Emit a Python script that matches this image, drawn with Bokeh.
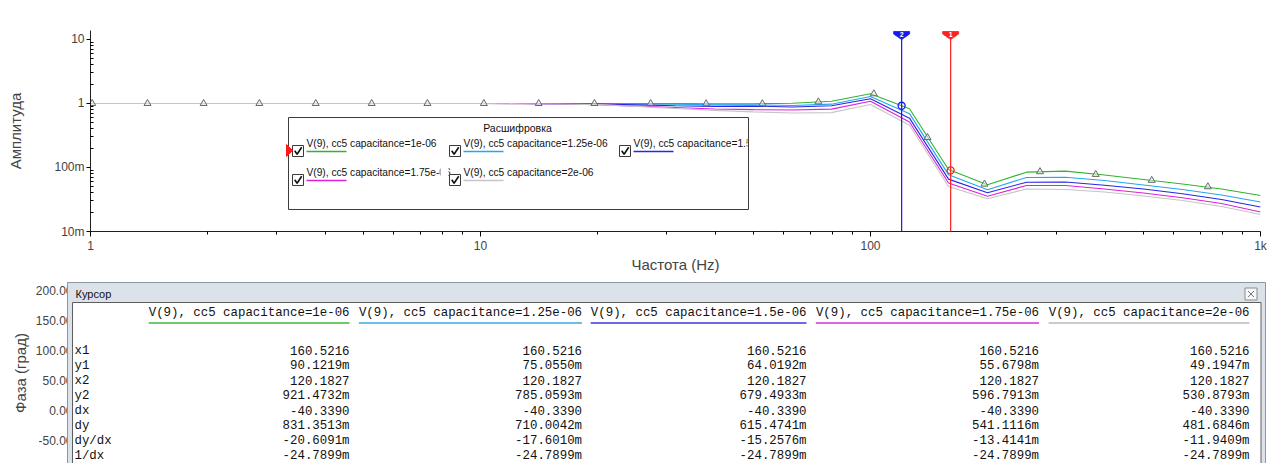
import numpy as np
from bokeh.plotting import figure
from bokeh.layouts import column
from bokeh.models import (Range1d, LinearScale, FixedTicker, CustomJSTickFormatter,
                          NumeralTickFormatter)
from bokeh.core.properties import value
from bokeh.embed import file_html
from bokeh.resources import INLINE

# ---------------------------------------------------------------- data
# AC sweep frequency points, 10 per decade (Hz)
freq = [1, 1.259, 1.585, 1.995, 2.512, 3.162, 3.981, 5.012, 6.310, 7.943,
        10, 12.59, 15.85, 19.95, 25.12, 31.62, 39.81, 50.12, 63.10, 79.43,
        100, 125.9, 158.5, 199.5, 251.2, 316.2, 398.1, 501.2, 631.0, 794.3, 1000]

# |V(9)| for each cc5 capacitance step
amp_c1 = [1.0, 1.0, 1.0, 1.0, 1.0, 1.0, 1.0, 1.0, 1.0, 1.0,
          1.0, 1.0, 1.0, 1.0, 1.0, 0.995, 0.985, 0.99, 1.01, 1.085,
          1.418, 0.826, 0.0929, 0.0537, 0.0845, 0.0876, 0.0763, 0.0649, 0.0553, 0.0461, 0.0365]
amp_c2 = [1.0, 1.0, 1.0, 1.0, 1.0, 1.0, 1.0, 1.0, 1.0, 1.0,
          1.0, 1.0, 0.99, 0.99, 0.985, 0.975, 0.955, 0.95, 0.93, 0.975,
          1.284, 0.693, 0.0773, 0.0449, 0.0698, 0.0705, 0.0626, 0.0533, 0.0453, 0.0372, 0.0289]
amp_c3 = [1.0, 1.0, 1.0, 1.0, 1.0, 1.0, 1.0, 1.0, 1.0, 1.0,
          1.0, 1.0, 0.99, 0.98, 0.95, 0.92, 0.90, 0.91, 0.88, 0.92,
          1.184, 0.590, 0.0658, 0.0403, 0.0589, 0.0593, 0.0529, 0.0461, 0.0388, 0.0316, 0.0241]
amp_c4 = [1.0, 1.0, 1.0, 1.0, 1.0, 1.0, 1.0, 1.0, 1.0, 1.0,
          1.0, 0.99, 0.98, 0.96, 0.91, 0.866, 0.82, 0.80, 0.79, 0.815,
          1.086, 0.513, 0.0572, 0.0356, 0.0523, 0.0523, 0.0461, 0.0400, 0.0336, 0.0274, 0.0202]
amp_c5 = [1.0, 1.0, 1.0, 1.0, 1.0, 1.0, 1.0, 1.0, 1.0, 1.0,
          1.0, 0.99, 0.98, 0.96, 0.90, 0.835, 0.78, 0.74, 0.71, 0.72,
          0.965, 0.4565, 0.0504, 0.0324, 0.0461, 0.0453, 0.0414, 0.0359, 0.0305, 0.0246, 0.0184]

series_names = ["V(9), cc5 capacitance=1e-06",
                "V(9), cc5 capacitance=1.25e-06",
                "V(9), cc5 capacitance=1.5e-06",
                "V(9), cc5 capacitance=1.75e-06",
                "V(9), cc5 capacitance=2e-06"]
series_amps = [amp_c1, amp_c2, amp_c3, amp_c4, amp_c5]
series_colors = ["#2fb52f", "#22a8ee", "#2626e8", "#dc22dc", "#c6c6c6"]
underline_colors = ["#3cb83c", "#3aa8e0", "#3a3ad6", "#d630d6", "#b8b8b8"]

# symbols plotted along the first trace
marker_f = [1.01, 1.40, 1.95, 2.71, 3.78, 5.26, 7.31, 10.2, 14.1, 19.6, 27.3,
            37.9, 52.8, 73.5, 102, 140, 196, 272, 378, 526, 733]
marker_v = [1.0, 1.0, 1.0, 1.0, 1.0, 1.0, 1.0, 1.0, 1.0, 1.0, 1.0,
            0.99, 0.99, 1.06, 1.42, 0.294, 0.055, 0.086, 0.078, 0.063, 0.050]

# cursor readout
cursor_x1 = 160.5216
cursor_x2 = 120.1827
y1_vals = [0.0901219, 0.0750550, 0.0640192, 0.0556798, 0.0491947]
y2_vals = [0.9214732, 0.7850593, 0.6794933, 0.5967913, 0.5308793]
dx_val = -40.3390
dy_vals = [0.8313513, 0.7100042, 0.6154741, 0.5411116, 0.4816846]
dydx_vals = [-0.0206091, -0.0176010, -0.0152576, -0.0134141, -0.0119409]
inv_dx_val = -0.0247899
row_labels = ["x1", "y1", "x2", "y2", "dx", "dy", "dy/dx", "1/dx"]

phase_ticks = [-50, 0, 50, 100, 150, 200]

UI = "Liberation Sans"
MONO = "Liberation Mono"


def eng(v):
    """Engineering-style readout: values below 1 get an 'm' suffix."""
    if abs(v) < 1:
        return f"{v * 1000:.4f}m"
    return f"{v:.4f}"


# ---------------------------------------------------------------- amplitude plot
F_LEFT, F_RIGHT, F_TOP, F_BOTTOM = 90, 1260, 30, 231
F_MIN, F_MAX = 1, 1000

top = figure(width=1269, height=280, x_axis_type="log", y_axis_type="log",
             x_range=Range1d(F_MIN, F_MAX), y_range=Range1d(0.01, 13.8),
             output_backend="svg", toolbar_location=None, frame_align=False,
             min_border_left=F_LEFT, min_border_right=1269 - F_RIGHT,
             min_border_top=F_TOP, min_border_bottom=280 - F_BOTTOM,
             background_fill_color="white", border_fill_color="white")
top.outline_line_color = None
top.grid.visible = False
# pixel-like overlay coordinates for the cursor flags and the legend panel
top.extra_x_ranges = {"px": Range1d(F_LEFT, F_RIGHT)}
top.extra_y_ranges = {"py": Range1d(F_BOTTOM, F_TOP)}
top.extra_x_scales = {"px": LinearScale()}
top.extra_y_scales = {"py": LinearScale()}


def freq_to_px(f):
    return F_LEFT + (F_RIGHT - F_LEFT) * np.log10(f / F_MIN) / np.log10(F_MAX / F_MIN)


xa = top.xaxis[0]
xa.ticker = FixedTicker(ticks=[1, 10, 100, 1000],
                        minor_ticks=[m * 10 ** e for e in range(3) for m in range(2, 10)])
xa.formatter = CustomJSTickFormatter(code="return tick >= 1000 ? (tick/1000).toFixed(0) + 'k' : tick.toFixed(0);")
xa.axis_label = "Частота (Hz)"
xa.axis_label_text_font = UI
xa.axis_label_text_font_size = "15px"
xa.axis_label_text_font_style = "normal"
xa.axis_label_standoff = 0
xa.major_label_text_font = UI
xa.major_label_text_font_size = "12px"
xa.major_label_standoff = 2
xa.major_tick_out = 5
xa.major_tick_in = 0
xa.minor_tick_out = 3
xa.minor_tick_in = 0
xa.axis_line_color = "#202020"

ya = top.yaxis[0]
ya.ticker = FixedTicker(ticks=[0.01, 0.1, 1, 10],
                        minor_ticks=[m * 10.0 ** e for e in (-2, -1, 0, 1) for m in range(2, 10)])
ya.formatter = CustomJSTickFormatter(code="return tick >= 1 ? tick.toFixed(0) : (tick*1000).toFixed(0) + 'm';")
ya.axis_label = "Амплитуда"
ya.axis_label_text_font = UI
ya.axis_label_text_font_size = "15px"
ya.axis_label_text_font_style = "normal"
ya.axis_label_standoff = 27
ya.major_label_text_font = UI
ya.major_label_text_font_size = "12px"
ya.major_label_standoff = 2
ya.major_tick_out = 4
ya.major_tick_in = 0
ya.minor_tick_out = 0
ya.minor_tick_in = 3
ya.axis_line_color = "#202020"

# traces
for amps, col in zip(series_amps, series_colors):
    top.line(freq, amps, line_color=col, line_width=1.1)

top.scatter(marker_f, marker_v, marker="triangle", size=7, line_color="#6a6a6a",
            fill_color="#e6e6e6", fill_alpha=0.6, line_width=1)

# cursors: vertical line, pennant with number, ring on the first trace
ov = dict(x_range_name="px", y_range_name="py", level="overlay")
cur = [(cursor_x1, y1_vals[0], "#ff2020", "1"), (cursor_x2, y2_vals[0], "#1818f0", "2")]
for cx, cy, col, lab in cur:
    top.segment(x0=[cx], y0=[37], x1=[cx], y1=[F_BOTTOM], y_range_name="py",
                line_color=col, line_width=1.2, level="overlay")
    top.scatter([cx], [cy], marker="circle", size=7, line_color=col, fill_color=None,
                line_width=1.3, level="overlay")
    fx = freq_to_px(cx)
    top.patch(x=[fx - 8, fx + 8, fx + 8, fx, fx - 8], y=[31, 31, 33.5, 39, 33.5],
              fill_color=col, line_color=col, line_width=0.8, **ov)
    top.text(x=[fx], y=[33.6], text=[lab], text_color="white",
             text_font=value(UI), text_font_size="7px", text_font_style="bold",
             text_align="center", text_baseline="middle", **ov)

# legend panel
lg_left, lg_right, lg_top, lg_bottom = 288, 748, 117, 209
top.quad(left=[lg_left], right=[lg_right], top=[lg_top], bottom=[lg_bottom],
         fill_color="white", line_color=None, **ov)
top.text(x=[517], y=[127.5], text=["Расшифровка"], text_font=value(UI), text_font_size="10.5px",
         text_color="#111111", text_align="center", text_baseline="middle", **ov)

col_x = [292, 449, 619]
row_y = [150.5, 179.5]
for i, (name, ucol) in enumerate(zip(series_names, series_colors)):
    c, r = i % 3, i // 3
    bx, by = col_x[c], row_y[r]
    tx = bx + 14
    top.text(x=[tx], y=[by - 7.5], text=[name], text_font=value(UI), text_font_size="10.2px",
             text_color="#111111", text_align="left", text_baseline="middle", **ov)
    # column clipping of long labels
    clip_l = col_x[c + 1] - 9 if c < 2 else lg_right - 1
    clip_r = col_x[c + 1] - 1 if c < 2 else lg_right + 60
    top.quad(left=[clip_l], right=[clip_r], top=[by - 15], bottom=[by - 1],
             fill_color="white", line_color=None, **ov)
    top.segment(x0=[tx], y0=[by + 0.5], x1=[tx + 40], y1=[by + 0.5], line_color=ucol,
                line_width=1.3, **ov)
    top.quad(left=[bx], right=[bx + 11], top=[by - 5.5], bottom=[by + 5.5],
             fill_color="white", line_color="#3a3a3a", line_width=1, **ov)
    top.line(x=[bx + 2.2, bx + 4.6, bx + 9.2], y=[by - 0.2, by + 3.2, by - 3.8],
             line_color="#111111", line_width=1.6, **ov)

top.quad(left=[lg_left], right=[lg_right], top=[lg_top], bottom=[lg_bottom],
         fill_color=None, line_color="#3c3c3c", line_width=1, **ov)
top.patch(x=[286, 292, 286], y=[144, 150, 156], fill_color="#ff1a1a", line_color="#ff1a1a", **ov)

# ---------------------------------------------------------------- phase plot + cursor window
bot = figure(width=1269, height=183, x_axis_type="log", x_range=Range1d(F_MIN, F_MAX),
             y_range=Range1d(-88.3, 213.3), x_axis_location=None,
             output_backend="svg", toolbar_location=None, frame_align=False,
             min_border_left=67, min_border_right=4, min_border_top=2, min_border_bottom=0,
             background_fill_color="white", border_fill_color="white")
bot.outline_line_color = None
bot.grid.visible = False
bot.extra_x_ranges = {"px": Range1d(67, 1265)}
bot.extra_y_ranges = {"py": Range1d(463, 282)}
bot.extra_x_scales = {"px": LinearScale()}
bot.extra_y_scales = {"py": LinearScale()}

pa = bot.yaxis[0]
pa.ticker = FixedTicker(ticks=phase_ticks)
pa.formatter = NumeralTickFormatter(format="0.00")
pa.axis_label = "Фаза (град)"
pa.axis_label_text_font = UI
pa.axis_label_text_font_size = "15px"
pa.axis_label_text_font_style = "normal"
pa.axis_label_standoff = 4
pa.major_label_text_font = UI
pa.major_label_text_font_size = "12px"
pa.major_label_standoff = -5
pa.major_tick_out = 0
pa.major_tick_in = 0
pa.minor_tick_out = 0
pa.minor_tick_in = 0
pa.axis_line_color = None

# window chrome
bot.quad(left=[67], right=[1265], top=[282], bottom=[470], fill_color="#dce2e9",
         line_color="#8d97a1", line_width=1, **ov)
bot.quad(left=[72], right=[1260.5], top=[302], bottom=[470], fill_color="white",
         line_color="#5e5e5e", line_width=1, **ov)
bot.text(x=[75], y=[293], text=["Курсор"], text_font=value(UI), text_font_size="11px",
         text_color="#111111", text_align="left", text_baseline="middle", **ov)
bot.quad(left=[1244.5], right=[1256.5], top=[287.5], bottom=[299.5], fill_color="#f5f7f9",
         line_color="#8a8a8a", line_width=1, **ov)
bot.segment(x0=[1247.5, 1253.5], y0=[290.5, 290.5], x1=[1253.5, 1247.5], y1=[296.5, 296.5],
            line_color="#666666", line_width=0.9, **ov)

# readout table
mono_px = 12.4
char_w = 0.6 * mono_px
col_right = [349, 581.5, 806, 1038.5, 1249]
hdr_y = 312.5
row_ys = [350, 365, 380, 395, 410, 425, 440, 455]
mono = dict(text_font=value(MONO), text_font_size=f"{mono_px}px", text_color="#111111",
            text_baseline="middle")

bot.text(x=[74] * len(row_labels), y=row_ys, text=row_labels, text_align="left", **mono, **ov)

for k, name in enumerate(series_names):
    xr = col_right[k]
    bot.text(x=[xr], y=[hdr_y], text=[name], text_align="right", **mono, **ov)
    bot.segment(x0=[xr - len(name) * char_w], y0=[322.5], x1=[xr], y1=[322.5],
                line_color=underline_colors[k], line_width=1.5, **ov)
    cells = [cursor_x1, y1_vals[k], cursor_x2, y2_vals[k], dx_val, dy_vals[k],
             dydx_vals[k], inv_dx_val]
    bot.text(x=[xr] * len(cells), y=row_ys, text=[eng(v) for v in cells],
             text_align="right", **mono, **ov)

layout = column(top, bot, spacing=0)
open("out.html", "w").write(file_html(layout, INLINE))
